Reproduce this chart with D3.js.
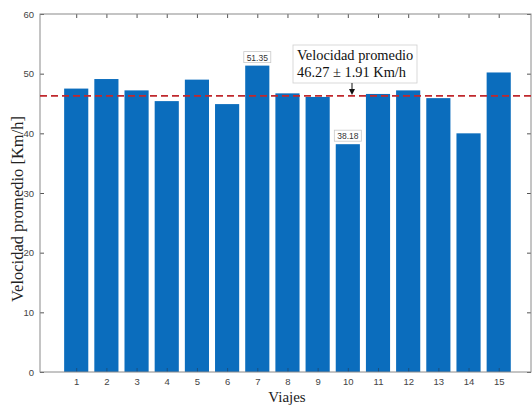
<!DOCTYPE html>
<html>
<head>
<meta charset="utf-8">
<script src="https://cdn.jsdelivr.net/npm/d3@7"></script>
<style>
body { margin: 0; background: #fff; }
svg { display: block; }
</style>
</head>
<body>
<svg id="chart" width="532" height="407"></svg>
<script>
const viajes = [1, 2, 3, 4, 5, 6, 7, 8, 9, 10, 11, 12, 13, 14, 15];
const velocidad = [47.5, 49.1, 47.2, 45.4, 49.0, 44.9, 51.35, 46.7, 46.1, 38.18, 46.6, 47.2, 45.9, 40.0, 50.2];
const yTicks = [0, 10, 20, 30, 40, 50, 60];
const promedio = 46.27;
const desviacion = 1.91;
const etiquetas = [{ viaje: 7, valor: 51.35 }, { viaje: 10, valor: 38.18 }];

const svg = d3.select("#chart");
const pLeft = 40, pRight = 531, pTop = 14, pBottom = 372;

const x = d3.scaleLinear().domain([-0.2, 16.07]).range([pLeft, pRight]);
const y = d3.scaleLinear().domain([0, 60]).range([pBottom, pTop]);
const bw = (x(1) - x(0)) * 0.8;
const axisColor = "#8a8a8a";

// bars
svg.append("g")
  .selectAll("rect")
  .data(viajes)
  .join("rect")
  .attr("x", (d) => x(d) - bw / 2)
  .attr("y", (d, i) => y(velocidad[i]))
  .attr("width", bw)
  .attr("height", (d, i) => y(0) - y(velocidad[i]))
  .attr("fill", "#0b6dbd");

// box axes
const yAxis = svg.append("g")
  .attr("transform", `translate(${pLeft},0)`)
  .call(d3.axisLeft(y).tickValues(yTicks).tickSize(-4).tickPadding(6));
const yAxisR = svg.append("g")
  .attr("transform", `translate(${pRight},0)`)
  .call(d3.axisRight(y).tickValues(yTicks).tickSize(-4).tickFormat(""));
const xAxis = svg.append("g")
  .attr("transform", `translate(0,${pBottom})`)
  .call(d3.axisBottom(x).tickValues(viajes).tickSize(-4).tickPadding(6).tickFormat(d3.format("d")));
const xAxisT = svg.append("g")
  .attr("transform", `translate(0,${pTop})`)
  .call(d3.axisTop(x).tickValues(viajes).tickSize(-4).tickFormat(""));

[yAxis, yAxisR, xAxis, xAxisT].forEach((a) => {
  a.selectAll(".domain").remove();
  a.selectAll(".tick line").attr("stroke", "#555");
  a.selectAll("text")
    .attr("fill", "#444")
    .style("font-family", "Liberation Sans, Arial, sans-serif")
    .style("font-size", "9.5px");
});
svg.append("rect")
  .attr("x", pLeft).attr("y", pTop)
  .attr("width", pRight - pLeft).attr("height", pBottom - pTop)
  .attr("fill", "none").attr("stroke", axisColor).attr("stroke-width", 1);
xAxis.selectAll(".tick line").attr("stroke", "#1a4f80");

// mean line
svg.append("line")
  .attr("x1", pLeft).attr("x2", pRight)
  .attr("y1", y(promedio)).attr("y2", y(promedio))
  .attr("stroke", "#c0282d")
  .attr("stroke-width", 1.6)
  .attr("stroke-dasharray", "7,4");

// value labels
const lab = svg.append("g").selectAll("g")
  .data(etiquetas)
  .join("g")
  .attr("transform", (d) => `translate(${x(d.viaje)},${y(d.valor) - 8})`);
lab.append("rect")
  .attr("x", -13.5).attr("y", -6)
  .attr("width", 27).attr("height", 11)
  .attr("fill", "#fff").attr("stroke", "#c8c8c8").attr("stroke-width", 0.8);
lab.append("text")
  .attr("text-anchor", "middle")
  .attr("y", 3)
  .style("font-family", "Liberation Sans, Arial, sans-serif")
  .style("font-size", "8.5px")
  .attr("fill", "#333")
  .text((d) => d.valor.toFixed(2));

// annotation
const ax = 352;
const ann = svg.append("g");
ann.append("rect")
  .attr("x", 293).attr("y", 45)
  .attr("width", 124).attr("height", 38)
  .attr("fill", "#fff").attr("stroke", "#cfcfcf").attr("stroke-width", 0.8);
ann.append("text")
  .attr("x", 297).attr("y", 60)
  .style("font-family", "Liberation Serif, Times New Roman, serif")
  .style("font-size", "14.4px")
  .attr("fill", "#111")
  .text("Velocidad promedio");
ann.append("text")
  .attr("x", 297).attr("y", 77)
  .style("font-family", "Liberation Serif, Times New Roman, serif")
  .style("font-size", "14.4px")
  .attr("fill", "#111")
  .text(`${promedio.toFixed(2)} ± ${desviacion.toFixed(2)} Km/h`);
ann.append("line")
  .attr("x1", ax).attr("x2", ax)
  .attr("y1", 83).attr("y2", y(promedio) - 5)
  .attr("stroke", "#111").attr("stroke-width", 1);
ann.append("path")
  .attr("d", `M${ax - 3},${y(promedio) - 7} L${ax + 3},${y(promedio) - 7} L${ax},${y(promedio) - 1} Z`)
  .attr("fill", "#111");

// axis titles
svg.append("text")
  .attr("x", 287).attr("y", 402)
  .attr("text-anchor", "middle")
  .style("font-family", "Liberation Serif, Times New Roman, serif")
  .style("font-size", "15px")
  .attr("fill", "#222")
  .text("Viajes");
svg.append("text")
  .attr("transform", "translate(23,209) rotate(-90)")
  .attr("text-anchor", "middle")
  .style("font-family", "Liberation Serif, Times New Roman, serif")
  .style("font-size", "16.5px")
  .attr("fill", "#222")
  .text("Velocidad promedio [Km/h]");
</script>
</body>
</html>
